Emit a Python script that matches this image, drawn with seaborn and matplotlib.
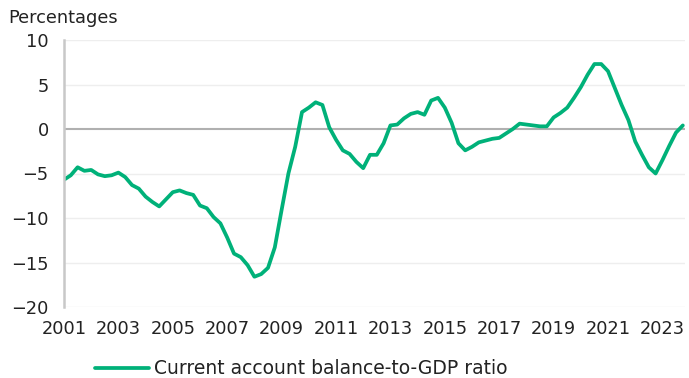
import numpy as np
import pandas as pd
import matplotlib
matplotlib.use("Agg")
import matplotlib.pyplot as plt
import seaborn as sns
from matplotlib.lines import Line2D

# Quarterly data, 2001Q1 .. 2023Q4
start_year = 2001
values = [
    -5.7, -5.2, -4.3, -4.7, -4.6, -5.1, -5.3, -5.2,   # 2001-2002
    -4.9, -5.4, -6.3, -6.7, -7.6, -8.2, -8.7, -7.9,   # 2003-2004
    -7.1, -6.9, -7.2, -7.4, -8.6, -8.9, -9.9, -10.6,  # 2005-2006
    -12.2, -14.0, -14.4, -15.3, -16.6, -16.3, -15.6, -13.3,  # 2007-2008
    -9.1, -5.0, -2.0, 1.9, 2.4, 3.0, 2.7, 0.2,        # 2009-2010
    -1.2, -2.4, -2.8, -3.7, -4.4, -2.9, -2.9, -1.6,   # 2011-2012
    0.4, 0.5, 1.2, 1.7, 1.9, 1.6, 3.2, 3.5,           # 2013-2014
    2.4, 0.7, -1.6, -2.4, -2.0, -1.5, -1.3, -1.1,     # 2015-2016
    -1.0, -0.5, 0.0, 0.6, 0.5, 0.4, 0.3, 0.3,         # 2017-2018
    1.3, 1.8, 2.4, 3.5, 4.7, 6.1, 7.3, 7.3,           # 2019-2020
    6.5, 4.6, 2.7, 1.0, -1.4, -2.9, -4.3, -5.0,       # 2021-2022
    -3.5, -1.9, -0.4, 0.4,                            # 2023
]
series_name = "Current account balance-to-GDP ratio"
xticks = list(range(2001, 2024, 2))
yticks = [10, 5, 0, -5, -10, -15, -20]
y_label = "Percentages"

dates = [start_year + i / 4 for i in range(len(values))]
df = pd.DataFrame({"date": dates, "value": values, "series": series_name})

sns.set_style("white")
plt.rcParams["font.family"] = ["DejaVu Sans"]

fig = plt.figure(figsize=(6.89, 3.78), dpi=100)
ax = fig.add_axes([64 / 689, 1 - 307 / 378, (685 - 64) / 689, (307 - 40) / 378])

green = "#00B179"
fs = 12.8
sns.lineplot(data=df, x="date", y="value", hue="series", palette=[green],
             linewidth=2.7, ax=ax, legend=False)

ax.set_xlim(2001, 2023.83)
ax.set_ylim(-20, 10)
ax.set_xticks(xticks)
ax.set_xticklabels([str(t) for t in xticks])
ax.set_yticks(yticks)
ax.set_yticklabels([str(t).replace("-", "\u2212") for t in yticks])

for t in yticks:
    if t != 0:
        ax.axhline(t, color="#eeeeee", linewidth=1.0, zorder=0)
ax.axhline(0, color="#b0b0b0", linewidth=1.5, zorder=1)

for s in ["top", "right", "bottom"]:
    ax.spines[s].set_visible(False)
ax.spines["left"].set_color("#c8c8c8")
ax.spines["left"].set_linewidth(1.8)

ax.tick_params(axis="both", length=0, labelsize=fs, colors="#222222")
ax.tick_params(axis="y", pad=11)
ax.tick_params(axis="x", pad=9)
ax.set_xlabel("")
ax.set_ylabel("")

fig.text(8 / 689, 1 - 18 / 378, y_label, fontsize=fs, color="#222222",
         ha="left", va="center")

handle = Line2D([0], [0], color=green, linewidth=2.7)
fig.legend([handle], [series_name], loc="center", bbox_to_anchor=(301 / 689, 1 - 369 / 378),
           frameon=False, fontsize=13.5, handlelength=2.9, handletextpad=0.25,
           labelcolor="#222222")

fig.savefig("out.png", dpi=100)
